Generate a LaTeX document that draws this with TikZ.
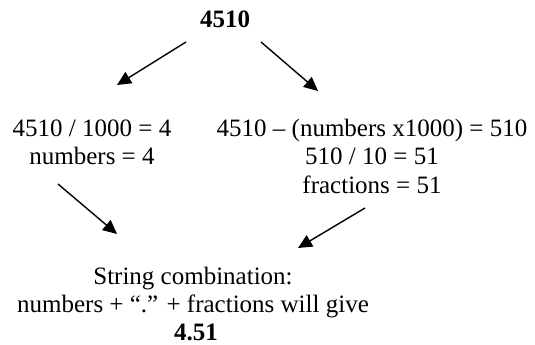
\documentclass[tikz,border=0pt]{standalone}
\usepackage{fontspec}
\setmainfont{Liberation Serif}
\usetikzlibrary{arrows.meta}
\begin{document}
\begin{tikzpicture}[x=1pt,y=1pt,
 txt/.style={font=\fontsize{25}{28.5}\selectfont, align=center, inner sep=0pt, anchor=base},
 bold/.style={txt, font=\fontsize{25}{28.5}\selectfont\bfseries},
 arr/.style={line width=1.4pt, -{Triangle[length=14pt,width=13pt]}}]
\useasboundingbox (0,0) rectangle (535,345);
\node[bold] (top) at (225,317) {4510};
\node[txt] (left) at (92,180) {4510 / 1000 = 4\\numbers = 4};
\node[txt] (right) at (372,151.5) {4510 – (numbers x1000) = 510\\510 / 10 = 51\\fractions = 51};
\node[txt] (bottom) at (193,32) {String combination:\\numbers + “.” + fractions will give};
\node[bold] (result) at (196,5) {4.51};
\coordinate (a1s) at (186,303);
\coordinate (a1e) at (117,260);
\coordinate (a2s) at (261,303);
\coordinate (a2e) at (318,254);
\coordinate (a3s) at (58,161);
\coordinate (a3e) at (117,111);
\coordinate (a4s) at (365,137);
\coordinate (a4e) at (298,97);
\draw[arr] (a1s) -- (a1e);
\draw[arr] (a2s) -- (a2e);
\draw[arr] (a3s) -- (a3e);
\draw[arr] (a4s) -- (a4e);
\end{tikzpicture}
\end{document}
